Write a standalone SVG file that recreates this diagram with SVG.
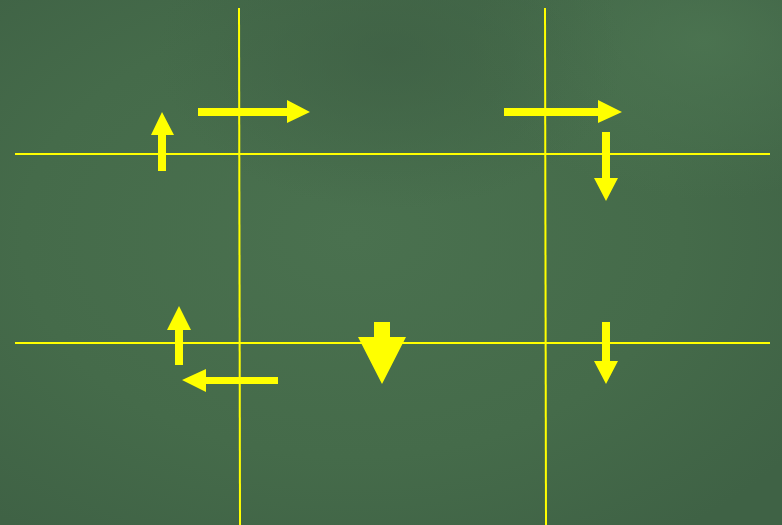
<svg xmlns="http://www.w3.org/2000/svg" width="782" height="525" viewBox="0 0 782 525">
  <defs>
    <radialGradient id="bg1" cx="0.45" cy="0.45" r="0.7">
      <stop offset="0" stop-color="#4a714f"/>
      <stop offset="0.6" stop-color="#456b4a"/>
      <stop offset="1" stop-color="#3f6245"/>
    </radialGradient>
    <radialGradient id="bg2" cx="0.9" cy="0.08" r="0.3">
      <stop offset="0" stop-color="#4d7652" stop-opacity="0.8"/>
      <stop offset="1" stop-color="#4d7652" stop-opacity="0"/>
    </radialGradient>
    <radialGradient id="bg3" cx="0.5" cy="0.1" r="0.3">
      <stop offset="0" stop-color="#3e5f44" stop-opacity="0.7"/>
      <stop offset="1" stop-color="#3e5f44" stop-opacity="0"/>
    </radialGradient>
    <style>
      .grid { stroke: #ffff00; stroke-width: 2; fill: none; }
      .arrow { fill: #ffff00; stroke: none; }
    </style>
  </defs>
  <rect width="782" height="525" fill="url(#bg1)"/>
  <rect width="782" height="525" fill="url(#bg2)"/>
  <rect width="782" height="525" fill="url(#bg3)"/>
  <g id="grid-lines">
    <line class="grid" x1="15" y1="154" x2="770" y2="154"/>
    <line class="grid" x1="15" y1="343" x2="770" y2="343"/>
    <line class="grid" x1="239" y1="8" x2="240" y2="525"/>
    <line class="grid" x1="545" y1="8" x2="546" y2="525"/>
  </g>
  <g id="connectors">
    <!-- up arrow top-left -->
    <path class="arrow" d="M162,112 L174,135 L166,135 L166,171 L158,171 L158,135 L151,135 Z"/>
    <!-- right arrow top-left -->
    <path class="arrow" d="M198,108 L287,108 L287,100 L310,112 L287,123 L287,116 L198,116 Z"/>
    <!-- right arrow top-right -->
    <path class="arrow" d="M504,108 L598,108 L598,100 L622,112 L598,123 L598,116 L504,116 Z"/>
    <!-- down arrow top-right -->
    <path class="arrow" d="M602,132 L610,132 L610,178 L618,178 L606,201 L594,178 L602,178 Z"/>
    <!-- up arrow bottom-left -->
    <path class="arrow" d="M179,306 L191,330 L183,330 L183,365 L175,365 L175,330 L167,330 Z"/>
    <!-- left arrow bottom-left -->
    <path class="arrow" d="M182,380 L206,369 L206,377 L278,377 L278,384 L206,384 L206,392 Z"/>
    <!-- big down arrow -->
    <path class="arrow" d="M374,322 L390,322 L390,337 L406,337 L382,384 L358,337 L374,337 Z"/>
    <!-- down arrow bottom-right -->
    <path class="arrow" d="M602,322 L610,322 L610,361 L618,361 L606,384 L594,361 L602,361 Z"/>
  </g>
</svg>
